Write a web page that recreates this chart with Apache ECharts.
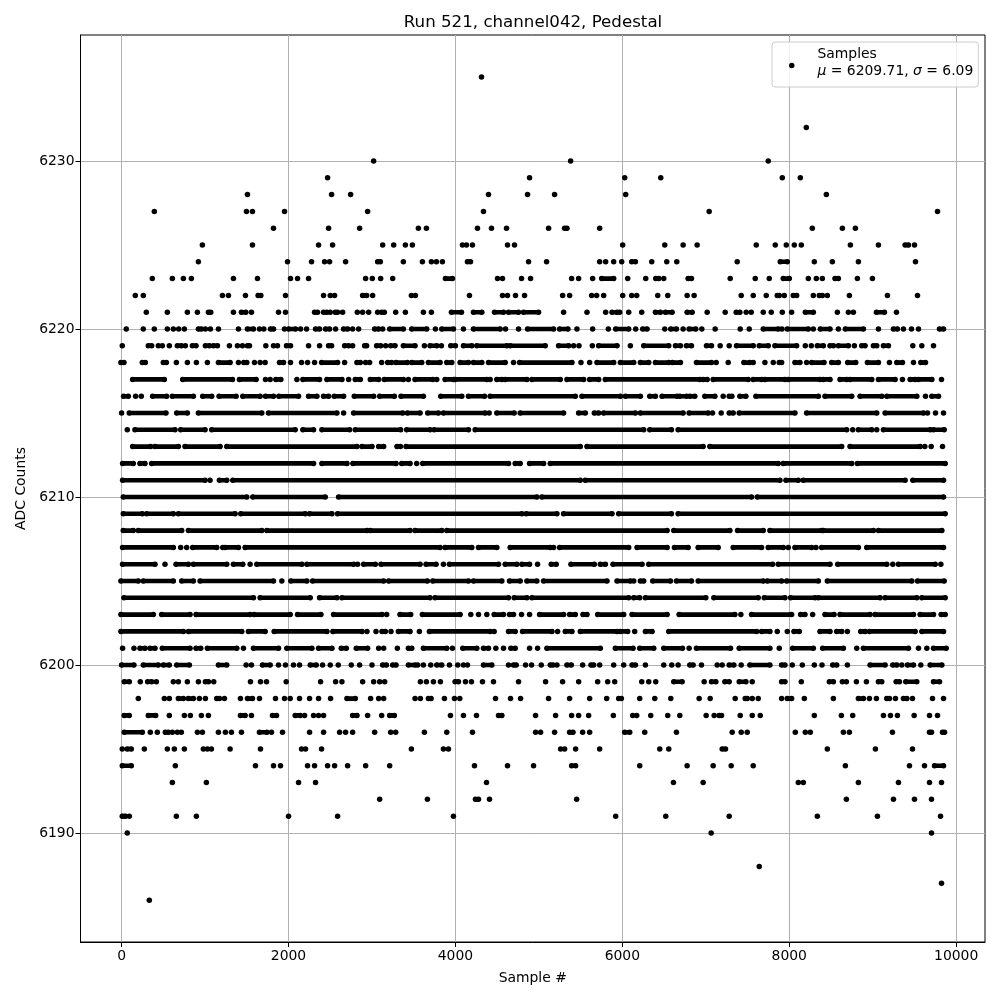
<!DOCTYPE html>
<html><head><meta charset="utf-8">
<style>html,body{margin:0;padding:0;background:#fff}#c{width:1000px;height:1000px}</style>
<script src="https://cdn.jsdelivr.net/npm/echarts@6/dist/echarts.min.js"></script>
</head><body><div id="c"></div>
<script>
// Sample positions per ADC level.
// A number is one dot; a pair [a,b] is a stretch of overlapping dots that merge into a solid bar.
const L6235=[4312];
const L6232=[8204];
const L6230=[3020,5380,7748];
const L6229=[2468,4888,6028,6460,7916,8132];
const L6228=[1508,2516,2744,4396,4864,5188,6040,8444];
const L6227=[392,1496,1568,1952,2948,4336,7040,9776];
const L6226=[1820,2480,2852,3556,3652,4264,4432,4612,5116,[5308,5336],5728,8276,8636,8792];
const L6225=[968,1568,2360,2528,3128,3260,3400,3484,4084,4132,4204,4624,4708,6004,6508,6728,6896,7604,7832,7964,8060,8144,8732,9068,[9388,9428],9500];
const L6224=[920,1988,2276,2432,2492,2684,[3068,3100],3376,3604,3712,3772,3844,[4144,4180],4876,5092,5728,5800,5896,5992,[6112,6156],6352,6532,6652,7376,[7892,7976],8300,8516,8828,9512];
const L6223=[368,608,740,836,1340,1628,2024,2108,2240,2924,3004,3104,3248,[3880,3964],4504,4564,4792,4900,5392,5476,5644,[5752,5896],6064,6280,[6400,6436],6496,[6788,6828],7292,7592,7760,[7928,8000],8228,8324,8396,[8548,8588],8816,8996];
const L6222=[164,260,1208,1280,1484,[1636,1668],1964,2420,2500,2552,[2888,2936],3008,3472,3520,4168,4564,4624,4720,4828,5284,5368,5632,5692,5776,6004,6112,6172,6424,6544,6776,6860,7424,7568,7724,[7856,7880],7940,[8048,8088],8288,[8360,8396],8456,8720,9176,9536];
const L6221=[296,548,788,908,[1040,1068],1340,[1436,1488],1556,1880,1964,[2312,2348],[2420,2460],2500,[2560,2588],2648,2824,2888,2960,3068,[3116,3148],3284,3400,3616,3712,[3952,4072],[4216,4316],[4468,4576],[4636,4756],[4816,4996],5296,5576,5800,[5876,5936],5968,6076,6232,[6396,6456],[6516,6596],[6776,6836],7016,7232,[7364,7408],7484,7544,7688,7784,7916,8028,[8192,8288],8576,8708,8768,[9044,9140],9284];
const L6220=[56,260,392,548,620,684,752,[920,956],1004,1064,1160,1400,[1508,1580],1652,1704,[1784,1820],1952,[2000,2084],2144,2216,[2324,2372],[2444,2492],2564,[2660,2708],2768,2840,[3032,3080],3128,[3212,3376],[3476,3656],3760,[3836,3976],4096,[4216,4536],4600,4756,[4864,5176],[5248,5348],5456,5644,5832,[5920,6076],6160,[6244,6296],6508,[6580,6648],6728,[6800,6880],6952,7112,7412,7520,[7688,7868],7912,[7976,8228],8288,[8372,8488],8588,[8672,8888],9068,[9248,9296],9368,9464,9548,[9800,9848]];
const L6219=[8,[320,360],440,488,572,[668,716],764,[848,892],[1004,1052],[1100,1148],1292,1388,1448,[1508,1532],1728,1820,1868,[1976,2024],2240,2372,[2480,2516],[2672,2720],2768,[2912,2936],[3056,3104],3164,[3224,3276],[3376,3516],3628,[3696,3776],3832,[3944,4000],[4096,4196],[4256,4616],[4656,5076],[5236,5356],5416,5480,5640,[5716,5936],6096,[6256,6556],[6636,6696],[6768,6828],[7008,7068],7172,7280,[7368,7568],[7640,7748],[7828,8088],8192,8264,[8336,8408],[8488,8528],[8588,8708],8780,[8868,8908],[9008,9048],[9128,9188],9480,9588,9728];
const L6218=[[-8,28],[248,284],[500,536],656,788,896,1028,[1160,1300],1400,[1464,1500],1592,1660,1720,[1892,1940],2024,2156,2228,2312,[2396,2588],2672,[2820,2860],2924,2972,3116,[3188,3236],[3288,3424],[3476,3596],[3676,3816],[3896,3956],[4056,4156],[4216,4316],[4396,4596],4696,[4768,5396],5504,5608,[5696,5896],[5976,6136],[6216,6316],[6396,6556],[6600,6696],[6888,7068],7124,7268,[7456,7528],7568,7708,7808,[7880,7908],[8068,8128],8208,[8268,8416],[8508,8588],[8700,8796],[8936,9068],9200,[9288,9356],9488,[9576,9632]];
const L6217=[[132,512],[732,1328],[1412,1612],1724,1780,[1848,1908],2100,[2172,2372],[2460,2640],2720,[2800,2860],[2980,3080],[3148,3376],3436,[3516,3728],3776,[3876,3976],[3996,4376],4416,[4496,4556],[4596,4856],[4916,5256],[5336,5536],[5608,5716],[5796,6928],[6968,7016],[7088,7508],[7568,7668],[7708,7948],[7988,8368],[8408,8488],[8608,8688],[8728,8988],[9068,9268],9356,[9448,9508],[9548,9708],9824];
const L6216=[[24,80],168,236,[372,540],[608,860],[972,1080],[1168,1372],[1452,1660],[1724,1820],[1884,2120],[2240,2340],[2420,2480],[2548,2660],[2788,3020],[3092,3268],[3348,3616],[3824,4076],[4156,4348],[4416,5436],[5516,5976],[6036,6216],[6328,6396],[6476,6656],[6688,6768],[6808,6868],[6988,7108],7208,[7280,7312],[7408,7480],[7600,8348],[8428,8748],[8848,9108],[9168,9528],9632,[9708,9788]];
const L6215=[0,[92,532],[660,788],[920,1680],[1760,2580],2660,[2780,3368],[3424,3576],[3668,3796],[3856,4356],4404,[4496,4704],[4776,5296],[5476,5556],[5664,5716],[5776,6156],[6216,6728],[6800,7028],7080,7184,[7280,7328],[7400,8068],[8208,9048],[9148,9608],9656,9752,9848];
const L6214=[68,[160,640],[708,1000],[1080,2080],[2172,2300],[2400,2732],[2800,3344],[3416,3696],[3744,4156],[4236,6256],[6328,6588],[6668,8688],8760,[8828,8988],9048,[9128,9688],[9728,9856]];
const L6213=[[132,348],[400,680],[760,1180],[1260,2820],[2880,3000],[3080,3140],[3300,3340],[3408,5496],[5576,6968],[7048,8628],[8728,9568],9624,9700,9836];
const L6212=[[12,140],[220,280],[360,2300],[2400,2700],[2772,3288],[3356,3456],3536,[3608,4636],[4716,4776],[4888,5056],[5136,7868],[7928,8748],[8816,9868]];
const L6211=[[12,1000],1060,[1172,1260],[1332,5496],[5556,7888],[7960,8108],[8168,9388],[9480,9848]];
const L6210=[[20,1500],[1572,2440],[2600,4976],[5036,7548],[7616,9848]];
const L6209=[[20,248],[300,620],[680,1360],[1428,2200],[2252,2520],[2588,4796],[4848,5216],[5296,5876],[5956,6588],[6668,9868]];
const L6208=[[20,140],[200,720],[800,1680],[1740,2940],[2980,3456],[3516,3836],[3896,6536],[6616,7288],[7380,7688],[7768,8388],[8408,9008],[9068,9828]];
const L6207=[[12,620],708,780,[852,1140],1212,[1240,1400],[1480,3816],[3876,4196],[4276,4496],[4656,5136],5176,[5248,6076],[6176,6536],[6624,6788],[6908,7148],[7328,7668],[7748,7928],7988,[8068,8268],8320,[8388,8828],[8928,9848]];
const L6206=[[12,400],520,[652,800],[860,1260],[1340,1452],1540,[1620,2160],[2220,2780],2828,[2900,3040],[3108,3576],[3648,3768],3856,[3928,4516],[4596,4736],[4796,4888],4984,[5148,5208],[5384,5664],[5736,5796],[5888,6236],[6316,7800],[7868,8488],[8580,9168],9240,[9308,9748],9816];
const L6205=[[-8,200],[260,620],[720,860],[940,1820],1920,[2028,2220],[2288,3140],[3200,3664],[3728,4156],[4216,4556],[4648,4776],[4856,4976],[5056,5816],[5936,6096],6136,[6216,6256],[6364,6576],[6648,6828],[6908,7688],[7736,7908],[7968,8348],[8456,9468],[9536,9856]];
const L6204=[[28,1580],[1660,2260],[2372,2580],[2640,3696],[3756,4636],[4704,4856],[4916,6076],[6136,6208],[6276,7000],[7096,7628],[7700,7948],[8016,8308],[8348,9088],[9148,9528],[9588,9868]];
const L6203=[[-8,380],[480,820],[892,1540],[1588,2020],[2108,2388],[2540,3120],3176,[3336,3464],[3604,4056],4184,4276,4376,[4464,4576],[4648,4696],4792,4888,[5008,5296],[5368,5436],[5528,5576],[5704,6016],[6116,6536],[6680,7348],7420,[7548,8028],[8136,8188],8280,[8428,8536],[8608,8968],[9028,9488],[9568,9728],[9820,9868]];
const L6202=[[-8,740],[800,1440],[1520,1720],[1828,2460],[2532,2880],2940,3048,[3120,3160],3228,[3316,3456],3568,[3688,4416],4464,[4636,4716],[4804,5156],5224,[5316,5396],[5496,5936],[5976,6064],6148,[6276,6356],[6556,7608],[7668,7768],7856,7976,[8056,8120],[8368,8488],[8568,8628],8696,[8856,8908],[8960,9508],[9588,9848]];
const L6201=[12,148,[220,280],[340,400],[488,820],[892,948],[1028,1380],1460,[1580,1880],[1980,2280],[2360,2520],[2632,2692],[2812,2948],3080,3140,3304,[3436,3476],[3616,3896],3964,[4088,4256],[4336,4396],4484,4576,[4664,4716],4888,4984,[5096,5736],[5916,6128],[6208,6376],[6496,6720],6800,[6888,7296],[7400,7768],7880,[8040,8288],[8400,8648],8808,[8888,9428],9548,9648,[9728,9880]];
const L6200=[[0,148],[260,440],[500,572],[660,812],[1160,1260],1492,1556,[1688,1780],1880,1964,2060,2132,[2260,2332],2408,2500,2596,2752,2852,3000,[3128,3172],[3248,3288],[3436,3516],3548,3616,3704,[3776,3836],3928,4028,4096,4144,[4336,4436],4636,[4696,4728],4840,4912,5028,[5136,5168],5216,[5336,5388],5524,[5624,5656],5728,5896,6016,[6116,6156],6276,6496,6592,6668,[6808,6848],6948,7136,7196,[7280,7336],7424,[7528,7768],[7908,7948],8036,8156,8300,8392,[8520,8568],8696,[8968,9148],[9240,9288],9348,[9416,9488],9576,[9688,9828]];
const L6199=[[32,92],224,[312,360],416,620,680,788,920,[1004,1040],1104,1544,1664,1736,1972,2384,2564,2640,2888,3020,3092,3152,3580,3652,3736,3820,[3996,4036],4120,4192,4324,4456,4756,5080,5284,5476,5704,5824,5908,6232,6316,6400,[6616,6716],6980,[7068,7120],[7228,7280],[7400,7480],7556,[7908,7948],8144,[8480,8528],8636,8684,8804,8924,[9068,9108],[9280,9320],[9396,9528],[9728,9800]];
const L6198=[200,512,572,[680,740],[800,860],932,1004,[1140,1172],1232,1424,[1508,1568],1652,1844,1952,2020,2132,2252,2360,2504,[2700,2800],2984,3080,3140,3516,3580,[3676,3708],3868,3988,4052,4480,4660,4780,5116,5368,5608,5812,[5956,5988],6208,6388,6580,6920,7052,7352,[7472,7496],7556,7628,7908,[7976,8028],8180,8528,[8828,8888],8960,9044,[9168,9200],9272,[9368,9408],9476,9716,9848];
const L6197=[[32,92],[320,408],572,752,824,956,1040,[1424,1480],1556,[1808,1856],[2080,2140],2192,2300,2360,2420,[2768,2820],2948,3116,[3212,3268],3940,4096,4252,[4516,4556],4960,5200,5392,5476,5596,5892,6124,6172,6340,6544,6688,7004,7100,[7160,7188],7412,7556,7652,8300,8624,8760,9128,9212,9296,9496,9680,9776];
const L6196=[[32,248],344,428,[524,560],608,668,716,908,968,1160,1244,1316,1436,[1652,1740],1796,1928,2252,2420,2612,2684,2768,3032,3224,3284,3628,3896,4204,4960,5020,5188,[5368,5408],5524,5608,[6028,6088],6268,6648,7316,7424,7496,8072,8192,8252,8648,8720,9236,[9680,9704],[9836,9860]];
const L6195=[8,[68,116],272,548,632,752,980,1028,1076,1300,1664,2156,2204,2396,3472,3856,3916,5260,5308,5440,5728,6448,6556,[7196,7236],8456,9032,9476];
const L6194=[[8,116],644,1604,1820,1904,2228,2312,2468,2552,2708,2924,3212,4228,4624,4936,[5392,5440],6208,6776,7088,7304,7568,8672,9440,9620,[9740,9848]];
const L6193=[608,1016,2120,2324,4372,6612,6968,8108,8168,8828,9308,9680,9824];
const L6192=[3092,3664,[4240,4276],4408,5452,8684,9248,9500,9704];
const L6191=[[8,44],92,656,896,2000,2588,3976,5920,6520,7280,8336,9056,9812];
const L6190=[68,7064,9704];
const L6188=[7640];
const L6187=[9824];
const L6186=[332];

const adcLevels=[6235,6232,6230,6229,6228,6227,6226,6225,6224,6223,6222,6221,6220,6219,6218,6217,6216,6215,6214,6213,6212,6211,6210,6209,6208,6207,6206,6205,6204,6203,6202,6201,6200,6199,6198,6197,6196,6195,6194,6193,6192,6191,6190,6188,6187,6186];
const samplesByLevel=[L6235,L6232,L6230,L6229,L6228,L6227,L6226,L6225,L6224,L6223,L6222,L6221,L6220,L6219,L6218,L6217,L6216,L6215,L6214,L6213,L6212,L6211,L6210,L6209,L6208,L6207,L6206,L6205,L6204,L6203,L6202,L6201,L6200,L6199,L6198,L6197,L6196,L6195,L6194,L6193,L6192,L6191,L6190,L6188,L6187,L6186];
const xTicks=[0,2000,4000,6000,8000,10000];
const yTicks=[6190,6200,6210,6220,6230];
const titleText='Run 521, channel042, Pedestal';
const xName='Sample #';
const yName='ADC Counts';
const seriesName='Samples';

const dots=[],runs=[];
samplesByLevel.forEach((list,i)=>{
  const y=adcLevels[i];
  list.forEach(e=>{
    if(Array.isArray(e)){dots.push([e[0],y],[e[1],y]);runs.push([e[0],e[1],y]);}
    else dots.push([e,y]);
  });
});
const font='DejaVu Sans';
const axisCommon={
  type:'value',nameLocation:'middle',scale:true,
  nameTextStyle:{fontFamily:font,fontSize:13.9,color:'#000'},
  axisLine:{show:true,onZero:false,lineStyle:{color:'#000',width:1}},
  axisTick:{show:true,length:5,lineStyle:{color:'#000',width:1}},
  splitLine:{show:true,lineStyle:{color:'#b0b0b0',width:1}},
};
const chart=echarts.init(document.getElementById('c'),null,{renderer:'canvas'});
chart.setOption({
  animation:false,backgroundColor:'#fff',
  title:{text:titleText,left:528,top:9,textAlign:'center',textStyle:{fontFamily:font,fontSize:16.67,fontWeight:'normal',color:'#000'}},
  grid:{left:80.5,right:15,top:35,bottom:58,show:true,borderColor:'#000',borderWidth:1,backgroundColor:'transparent'},
  xAxis:Object.assign({},axisCommon,{min:-492.4,max:10345,name:xName,nameGap:29,
    axisTick:Object.assign({},axisCommon.axisTick,{customValues:xTicks}),
    axisLabel:{customValues:xTicks,formatter:v=>String(v),fontFamily:font,fontSize:13.9,color:'#000',margin:7}}),
  yAxis:Object.assign({},axisCommon,{min:6183.51,max:6237.5,name:yName,nameGap:52,
    axisTick:Object.assign({},axisCommon.axisTick,{customValues:yTicks}),
    axisLabel:{customValues:yTicks,formatter:v=>String(v),fontFamily:font,fontSize:13.9,color:'#000',margin:6}}),
  legend:{
    data:[{name:seriesName,icon:'circle',itemStyle:{color:'#000',opacity:1}}],
    left:772,top:42,orient:'vertical',itemWidth:5.5,itemHeight:5.5,itemGap:0,
    padding:[5,5,9,17],backgroundColor:'rgba(255,255,255,0.8)',borderColor:'#cccccc',borderWidth:1,borderRadius:3,
    formatter:()=>'{a|Samples}\n{b|μ} = 6209.71, {b|σ} = 6.09',
    textStyle:{fontFamily:font,fontSize:13.9,color:'#000',padding:[0,0,6,18],rich:{
      a:{fontFamily:font,fontSize:13.9,color:'#000',lineHeight:17},
      b:{fontFamily:font,fontSize:13.9,color:'#000',fontStyle:'italic',lineHeight:17}}}
  },
  series:[
    {type:'custom',name:'runs',data:runs,silent:true,z:2,clip:true,
     encode:{x:[0,1],y:2},
     renderItem:(p,api)=>{
       const a=api.coord([api.value(0),api.value(2)]),b=api.coord([api.value(1),api.value(2)]);
       return {type:'line',shape:{x1:a[0],y1:a[1],x2:b[0],y2:b[1]},style:{stroke:'#000',lineWidth:4.6,lineCap:'round',fill:null}};
     }},
    {type:'scatter',name:seriesName,data:dots,symbol:'circle',symbolSize:5.5,large:false,z:3,
     itemStyle:{color:'#000',opacity:1},silent:true}
  ]
});
</script></body></html>
